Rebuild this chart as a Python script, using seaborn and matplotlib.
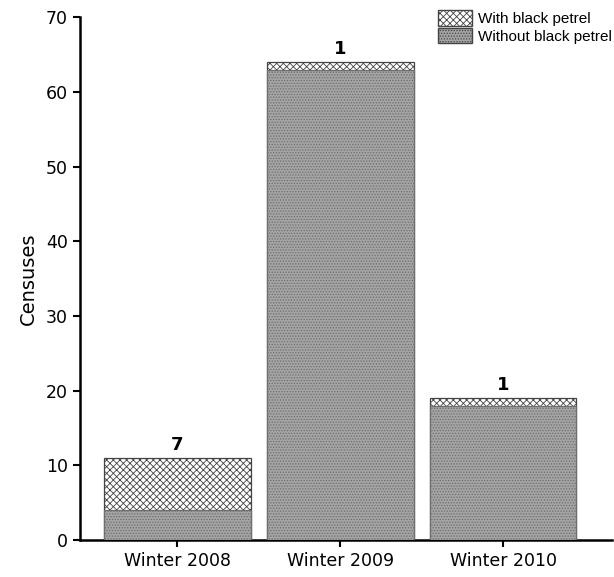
import pandas as pd
import matplotlib
matplotlib.use("Agg")
import matplotlib.pyplot as plt
import seaborn as sns
from matplotlib.patches import Patch

# data
seasons = ["Winter 2008", "Winter 2009", "Winter 2010"]
without_petrel = [4, 63, 18]
with_petrel = [7, 1, 1]

df = pd.DataFrame({"season": seasons,
                   "without": without_petrel,
                   "with": with_petrel})
df["total"] = df["without"] + df["with"]

sns.set_style("ticks")
plt.rcParams["font.family"] = ["DejaVu Sans"]
plt.rcParams["hatch.linewidth"] = 0.6
plt.rcParams["text.color"] = "black"
plt.rcParams["axes.labelcolor"] = "black"
plt.rcParams["xtick.color"] = "black"
plt.rcParams["ytick.color"] = "black"

fig = plt.figure(figsize=(6.14, 5.77), dpi=100)
ax = fig.add_axes([0.130, 0.064, 0.867, 0.906])

gray = "#a4a4a4"
edge = "#444444"

# total bars (hatched part shows on top), then the "without" part over them
sns.barplot(data=df, x="season", y="total", order=seasons, color="white",
            width=0.9, edgecolor=edge, linewidth=0.9, ax=ax,
            saturation=1, zorder=2)
for p in ax.patches:
    p.set_hatch("xxxxx")
n_tot = len(ax.patches)
sns.barplot(data=df, x="season", y="without", order=seasons, color=gray,
            width=0.9, edgecolor=edge, linewidth=0.9, ax=ax,
            saturation=1, zorder=3)
for p in ax.patches[n_tot:]:
    p.set_hatch("......")
    p.set_edgecolor("#6e6e6e")

# counts above the bars
for i, row in df.iterrows():
    ax.text(i, row["total"] + 0.5, str(row["with"]), ha="center", va="bottom",
            fontsize=13, fontweight="bold")

ax.set_ylim(0, 70)
ax.set_xlim(-0.6, 2.67)
ax.set_yticks(range(0, 71, 10))
ax.set_xlabel("")
ax.set_ylabel("Censuses", fontsize=14, labelpad=6)
ax.tick_params(axis="both", labelsize=12.5, width=1.5, length=5)
for s in ["left", "bottom"]:
    ax.spines[s].set_linewidth(1.8)
    ax.spines[s].set_color("black")
sns.despine(ax=ax)

handles = [Patch(facecolor="white", edgecolor=edge, hatch="xxxxx", label="With black petrel"),
           Patch(facecolor=gray, edgecolor=edge, hatch="......", label="Without black petrel")]
ax.legend(handles=handles, loc="upper right", bbox_to_anchor=(1.025, 1.04),
          frameon=False, prop={"family": "Liberation Sans", "size": 11},
          handlelength=2.2, handleheight=1.2, handletextpad=0.4, labelspacing=0.1)

fig.savefig("out.png", dpi=100)
